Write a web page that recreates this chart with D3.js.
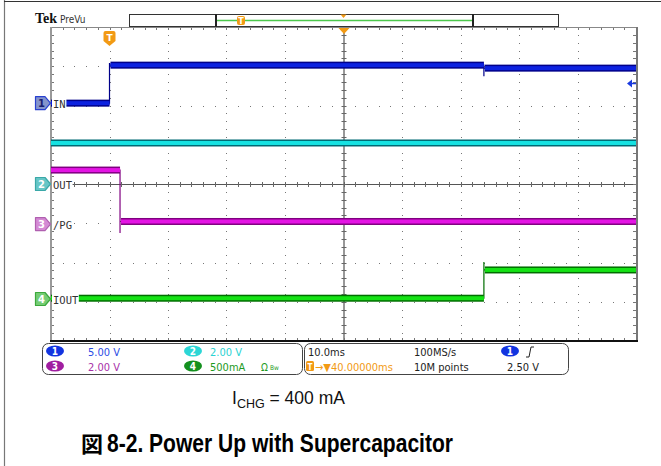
<!DOCTYPE html>
<html>
<head>
<meta charset="utf-8">
<script src="https://cdn.jsdelivr.net/npm/d3@7"></script>
<style>
  body { margin: 0; background: #fff; }
  svg { display: block; }
</style>
</head>
<body>
<svg id="scope" width="661" height="466"></svg>
<script>
// scope settings
const chNumbers = ['1', '2', '3', '4']
const chNames = ['IN', 'OUT', '/PG', 'IOUT']
const chScaleText = ['5.00 V', '2.00 V', '2.00 V', '500mA']
const chPerDiv = [5, 2, 2, 0.5]
const chOffsetDiv = [2.06, 0, -1.02, -2.93]

// traces: breakpoint times (ms), level between breakpoints, edge overshoot
const inTimes = [-10, 0, 64, 90]
const inLevels = [0, 4.84, 4.46]
const inSpikes = [5.1, 3.44]
const outTimes = [-10, 90]
const outLevels = [2.09]
const outSpikes = []
const pgTimes = [-10, 1.8, 90]
const pgLevels = [2.75, 0.13]
const pgSpikes = [-0.46]
const ioutTimes = [-10, 64, 90]
const ioutLevels = [0.01, 0.37]
const ioutSpikes = [0.47]

const traces = [
  { times: inTimes, levels: inLevels, spikes: inSpikes },
  { times: outTimes, levels: outLevels, spikes: outSpikes },
  { times: pgTimes, levels: pgLevels, spikes: pgSpikes },
  { times: ioutTimes, levels: ioutLevels, spikes: ioutSpikes }
]

const timeDomain = [-10, 90]   // 10.0 ms/div, trigger at 0
const divDomain = [-4, 4]
const triggerLevel = 2.5

const svg = d3.select('#scope')

const xscale = d3.scaleLinear().domain(timeDomain).range([51, 636])
const yscale = d3.scaleLinear().domain(divDomain).range([341, 27])
const chY = (ch, v) => yscale(chOffsetDiv[ch] + v / chPerDiv[ch])

const coreColors = ['#0c22e0', '#16e2e2', '#e414e4', '#14e214']
const edgeColors = ['#00008a', '#006a74', '#800080', '#006e00']
const markFill = ['#8494cc', '#66c6c6', '#d48ad4', '#74cc74']
const markStroke = ['#2840d0', '#3aa8a8', '#b060b0', '#3ca83c']
const markText = ['#1a2070', '#ffffff', '#ffffff', '#ffffff']
const readColors = ['#2c4ce4', '#2ad2d2', '#a830a8', '#1e9a1e']
const badgeColors = ['#1234e0', '#2cd6d6', '#a01ea0', '#14901e']
const orange = '#f29a14'

// outer frame
svg.append('line').attr('x1', 4.5).attr('x2', 4.5).attr('y1', 0).attr('y2', 466)
  .attr('stroke', '#777').attr('stroke-width', 1.2)
svg.append('line').attr('x1', 4).attr('x2', 661).attr('y1', 1.5).attr('y2', 1.5)
  .attr('stroke', '#333').attr('stroke-width', 1.2)

// header
svg.append('text').text('Tek').attr('x', 35).attr('y', 23)
  .style('font-family', 'Liberation Serif').style('font-weight', 'bold').style('font-size', '14px')
  .attr('fill', '#111')
svg.append('text').text('PreVu').attr('x', 60).attr('y', 23)
  .style('font-family', 'DejaVu Sans Condensed, DejaVu Sans').style('font-size', '10px')
  .attr('fill', '#333')

// record bar
svg.append('rect').attr('x', 129.5).attr('y', 14.5).attr('width', 429).attr('height', 12)
  .attr('fill', '#fff').attr('stroke', '#333')
svg.append('line').attr('x1', 217).attr('x2', 472).attr('y1', 20.5).attr('y2', 20.5)
  .attr('stroke', '#4cc84c').attr('stroke-width', 1.5)
;[216, 473].forEach(x => {
  svg.append('line').attr('x1', x).attr('x2', x).attr('y1', 14).attr('y2', 27)
    .attr('stroke', '#222').attr('stroke-width', 2)
})
svg.append('rect').attr('x', 237).attr('y', 16).attr('width', 8).attr('height', 9).attr('rx', 2)
  .attr('fill', orange)
svg.append('text').text('T').attr('x', 241).attr('y', 24).attr('text-anchor', 'middle')
  .style('font-family', 'DejaVu Sans').style('font-size', '8px').style('font-weight', 'bold').attr('fill', '#fff')
svg.append('path').attr('d', `M${xscale(40) - 3},14.5 L${xscale(40) + 3},14.5 L${xscale(40)},18 Z`).attr('fill', orange)

// graticule
const grid = svg.append('g')
const minorX = d3.range(0, 50.001, 1).map(i => timeDomain[0] + i * 2)
const minorY = d3.range(-4, 4.001, 0.2)

d3.range(-3, 4).filter(d => d !== 0).forEach(d => {
  grid.selectAll(null).data(minorX.slice(1, -1)).enter().append('rect')
    .attr('x', t => Math.round(xscale(t))).attr('y', Math.round(yscale(d)))
    .attr('width', 1).attr('height', 1).attr('fill', '#777')
})
d3.range(0, 90, 10).filter(t => t !== 40).forEach(t => {
  grid.selectAll(null).data(minorY.slice(1, -1)).enter().append('rect')
    .attr('x', Math.round(xscale(t))).attr('y', d => Math.round(yscale(d)))
    .attr('width', 1).attr('height', 1).attr('fill', '#777')
})

// centre cross with ticks
grid.append('line').attr('x1', 51).attr('x2', 636).attr('y1', yscale(0) + 0.5).attr('y2', yscale(0) + 0.5)
  .attr('stroke', '#555')
grid.append('line').attr('x1', xscale(40) + 0.5).attr('x2', xscale(40) + 0.5).attr('y1', 27).attr('y2', 341)
  .attr('stroke', '#333')
grid.selectAll(null).data(minorX).enter().append('line')
  .attr('x1', t => Math.round(xscale(t)) + 0.5).attr('x2', t => Math.round(xscale(t)) + 0.5)
  .attr('y1', yscale(0) - 2).attr('y2', yscale(0) + 3).attr('stroke', '#666')
grid.selectAll(null).data(minorY).enter().append('line')
  .attr('y1', d => Math.round(yscale(d)) + 0.5).attr('y2', d => Math.round(yscale(d)) + 0.5)
  .attr('x1', xscale(40) - 2).attr('x2', xscale(40) + 3).attr('stroke', '#666')

// border ticks
grid.selectAll(null).data(minorX).enter().append('line')
  .attr('x1', t => Math.round(xscale(t)) + 0.5).attr('x2', t => Math.round(xscale(t)) + 0.5)
  .attr('y1', 27).attr('y2', 30).attr('stroke', '#777')
grid.selectAll(null).data(minorX).enter().append('line')
  .attr('x1', t => Math.round(xscale(t)) + 0.5).attr('x2', t => Math.round(xscale(t)) + 0.5)
  .attr('y1', 338).attr('y2', 341).attr('stroke', '#777')
grid.selectAll(null).data(minorY).enter().append('line')
  .attr('y1', d => Math.round(yscale(d)) + 0.5).attr('y2', d => Math.round(yscale(d)) + 0.5)
  .attr('x1', 51).attr('x2', 54).attr('stroke', '#777')
grid.selectAll(null).data(minorY).enter().append('line')
  .attr('y1', d => Math.round(yscale(d)) + 0.5).attr('y2', d => Math.round(yscale(d)) + 0.5)
  .attr('x1', 633).attr('x2', 636).attr('stroke', '#777')

grid.append('line').attr('x1', 51).attr('x2', 637).attr('y1', 27.5).attr('y2', 27.5).attr('stroke', '#888')
grid.append('line').attr('x1', 51).attr('x2', 51).attr('y1', 27).attr('y2', 342).attr('stroke', '#999').attr('stroke-width', 2)
grid.append('line').attr('x1', 637).attr('x2', 637).attr('y1', 27).attr('y2', 342).attr('stroke', '#777').attr('stroke-width', 2)
grid.append('line').attr('x1', 50).attr('x2', 638).attr('y1', 341).attr('y2', 341).attr('stroke', '#111').attr('stroke-width', 2)

// traces
const traceG = svg.append('g')
traces.forEach((tr, ch) => {
  const segs = tr.levels.map((v, i) => ({ t0: tr.times[i], t1: tr.times[i + 1], v }))
  // thin edges
  const edgePts = []
  segs.forEach((s, i) => {
    edgePts.push([s.t0, s.v], [s.t1, s.v])
    if (i < segs.length - 1) edgePts.push([s.t1, tr.spikes[i]])
  })
  const line = d3.line().x(d => xscale(d[0])).y(d => chY(ch, d[1]))
  traceG.append('path').attr('d', line(edgePts)).attr('fill', 'none')
    .attr('stroke', edgeColors[ch]).attr('stroke-width', 1.2)
  traceG.selectAll(null).data(segs).enter().append('rect')
    .attr('x', s => xscale(s.t0) + (s.t0 === timeDomain[0] ? 0 : 1))
    .attr('width', s => xscale(s.t1) - xscale(s.t0) - (s.t0 === timeDomain[0] ? 0 : 1))
    .attr('y', s => chY(ch, s.v) - 3.5).attr('height', 7)
    .attr('fill', edgeColors[ch])
  traceG.selectAll(null).data(segs).enter().append('rect')
    .attr('x', s => xscale(s.t0) + (s.t0 === timeDomain[0] ? 0 : 1))
    .attr('width', s => xscale(s.t1) - xscale(s.t0) - (s.t0 === timeDomain[0] ? 0 : 1))
    .attr('y', s => chY(ch, s.v) - 2).attr('height', 4)
    .attr('fill', coreColors[ch])
})

// channel labels and ground markers
chNames.forEach((name, ch) => {
  const y = chY(ch, 0)
  const w = name.length * 6.2 + 2
  svg.append('rect').attr('x', 52).attr('y', y - 7).attr('width', w).attr('height', 13).attr('fill', '#fff')
  svg.append('text').text(name).attr('x', 53).attr('y', y + 4.5)
    .style('font-family', 'DejaVu Sans Mono').style('font-size', '10.5px').attr('fill', '#333')
  svg.append('path')
    .attr('d', `M35.5,${y - 6.5} L45,${y - 6.5} L50.5,${y} L45,${y + 6.5} L35.5,${y + 6.5} Z`)
    .attr('fill', markFill[ch]).attr('stroke', markStroke[ch]).attr('stroke-width', 1.2)
    .attr('stroke-linejoin', 'round')
  svg.append('text').text(chNumbers[ch]).attr('x', 41.5).attr('y', y + 4)
    .attr('text-anchor', 'middle')
    .style('font-family', 'DejaVu Sans').style('font-weight', 'bold').style('font-size', '10px')
    .attr('fill', markText[ch])
})

// trigger position marker
const tx = xscale(0)
svg.append('path')
  .attr('d', `M${tx - 6},33 Q${tx - 6},31 ${tx - 4},31 L${tx + 4},31 Q${tx + 6},31 ${tx + 6},33 L${tx + 6},41 L${tx},46 L${tx - 6},41 Z`)
  .attr('fill', orange)
svg.append('text').text('T').attr('x', tx).attr('y', 41).attr('text-anchor', 'middle')
  .style('font-family', 'DejaVu Sans').style('font-weight', 'bold').style('font-size', '9px').attr('fill', '#fff')
svg.append('path').attr('d', `M${xscale(40) - 5},28 L${xscale(40) + 6},28 L${xscale(40) + 0.5},34 Z`).attr('fill', orange)

// trigger level arrow
const ty = chY(0, triggerLevel)
svg.append('path').attr('d', `M627,${ty} L632,${ty - 4} L632,${ty + 4} Z`).attr('fill', '#1a3ae0')
svg.append('line').attr('x1', 631).attr('x2', 636).attr('y1', ty).attr('y2', ty).attr('stroke', '#1a3ae0').attr('stroke-width', 1.5)

// readout
const rd = svg.append('g').style('font-family', 'DejaVu Sans Condensed, DejaVu Sans').style('font-size', '11px')
rd.append('rect').attr('x', 42.5).attr('y', 343.5).attr('width', 260).attr('height', 31).attr('rx', 6)
  .attr('fill', '#fff').attr('stroke', '#444')
rd.append('rect').attr('x', 304.5).attr('y', 343.5).attr('width', 264).attr('height', 31).attr('rx', 6)
  .attr('fill', '#fff').attr('stroke', '#444')

const badgePos = [[55, 351], [193, 351], [55, 366], [193, 366]]
chNumbers.forEach((n, ch) => {
  const [bx, by] = badgePos[ch]
  rd.append('ellipse').attr('cx', bx).attr('cy', by).attr('rx', 9).attr('ry', 5.5).attr('fill', badgeColors[ch])
  rd.append('text').text(n).attr('x', bx).attr('y', by + 4).attr('text-anchor', 'middle')
    .style('font-weight', 'bold').style('font-size', '10px').attr('fill', '#fff')
  rd.append('text').text(chScaleText[ch]).attr('x', bx + 33 - (ch % 2) * 16).attr('y', by + 4.5)
    .attr('fill', readColors[ch])
})
rd.append('text').text('Ω').attr('x', 261).attr('y', 370.5).attr('fill', readColors[3]).style('font-size', '10px')
rd.append('text').text('Bw').attr('x', 270).attr('y', 370).attr('fill', readColors[3]).style('font-size', '6.5px')

rd.append('text').text('10.0ms').attr('x', 308).attr('y', 355.5).attr('fill', '#222')
rd.append('text').text('100MS/s').attr('x', 414).attr('y', 355.5).attr('fill', '#222')
rd.append('ellipse').attr('cx', 510).attr('cy', 351).attr('rx', 9).attr('ry', 5.5).attr('fill', badgeColors[0])
rd.append('text').text('1').attr('x', 510).attr('y', 355).attr('text-anchor', 'middle')
  .style('font-weight', 'bold').style('font-size', '10px').attr('fill', '#fff')
rd.append('path').attr('d', 'M526,357 L529,357 L531,347 L534,347').attr('fill', 'none').attr('stroke', '#222')
rd.append('rect').attr('x', 306).attr('y', 361).attr('width', 8).attr('height', 10).attr('rx', 1.5).attr('fill', orange)
rd.append('text').text('T').attr('x', 310).attr('y', 369.5).attr('text-anchor', 'middle')
  .style('font-weight', 'bold').style('font-size', '8px').attr('fill', '#fff')
rd.append('text').text('→▼40.00000ms').attr('x', 315).attr('y', 370.5).attr('fill', orange)
rd.append('text').text('10M points').attr('x', 414).attr('y', 370.5).attr('fill', '#222')
rd.append('text').text('2.50 V').attr('x', 507).attr('y', 370.5).attr('fill', '#222')

// caption
const cap = svg.append('text').attr('x', 232).attr('y', 404)
  .style('font-family', 'Liberation Sans, Arial').style('font-size', '17.5px').attr('fill', '#111')
cap.append('tspan').text('I')
cap.append('tspan').text('CHG').attr('dy', 4).style('font-size', '12.5px')
cap.append('tspan').text(' = 400 mA').attr('dy', -4)

svg.append('text').text('図').attr('x', 81).attr('y', 452)
  .style('font-family', 'Noto Sans CJK JP').style('font-weight', 'bold').style('font-size', '22px').attr('fill', '#000')
svg.append('text').text('8-2. Power Up with Supercapacitor').attr('x', 107).attr('y', 452)
  .attr('textLength', 346).attr('lengthAdjust', 'spacingAndGlyphs')
  .style('font-family', 'Liberation Sans, Arial').style('font-weight', 'bold').style('font-size', '26px').attr('fill', '#000')
</script>
</body>
</html>
